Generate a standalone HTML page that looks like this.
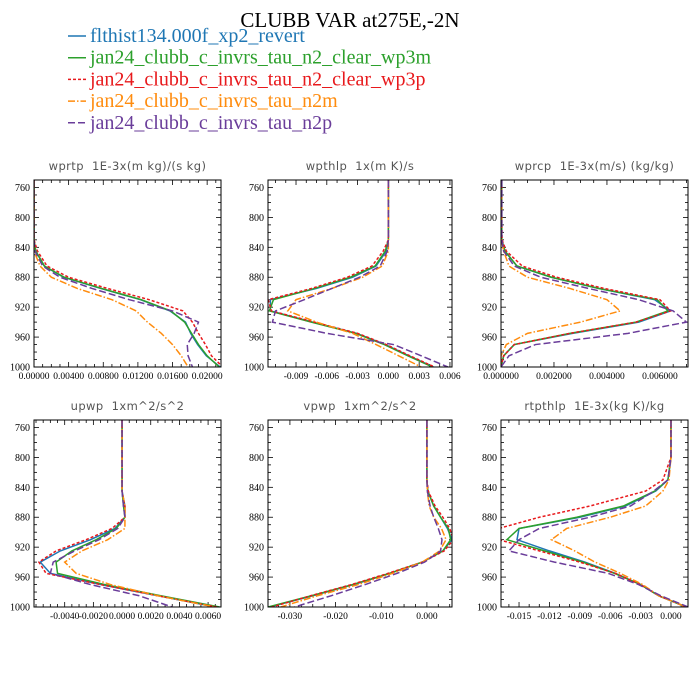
<!DOCTYPE html>
<html><head><meta charset="utf-8"><style>
html,body{margin:0;padding:0;background:#fff;}
svg{display:block;}
</style></head><body>
<svg id="chart" width="700" height="700" viewBox="0 0 700 700" xmlns="http://www.w3.org/2000/svg">
<text x="350" y="27" text-anchor="middle" font-family="Liberation Serif, serif" font-size="21">CLUBB VAR at275E,-2N</text>
<g id="legend"></g>
<g id="panels"></g>
</svg>
<script>
const levels = [750,800,830,845,865,880,895,910,925,940,955,970,985,1000];
const seriesNames = ["flthist134.000f_xp2_revert","jan24_clubb_c_invrs_tau_n2_clear_wp3m","jan24_clubb_c_invrs_tau_n2_clear_wp3p","jan24_clubb_c_invrs_tau_n2m","jan24_clubb_c_invrs_tau_n2p"];
const wprtpBlue   = [0,0,0,0.0002,0.0012,0.0034,0.0077,0.0123,0.0157,0.0175,0.0181,0.0189,0.0199,0.0215];
const wprtpGreen  = [0,0,0,0.0002,0.0012,0.0035,0.0078,0.0124,0.0158,0.0174,0.0182,0.0190,0.0200,0.0214];
const wprtpRed    = [0,0,0,0.0004,0.0015,0.0040,0.0085,0.0133,0.0172,0.0183,0.0190,0.0198,0.0205,0.0218];
const wprtpOrange = [0,0,0,0,0.0007,0.0020,0.0050,0.0090,0.0118,0.0131,0.0147,0.0160,0.0170,0.0178];
const wprtpPurple = [0,0,0,0.0001,0.0010,0.0030,0.0067,0.0110,0.0160,0.0190,0.0185,0.0177,0.0178,0.0183];
const wpthlpBlue   = [0,0,0,-0.0002,-0.0012,-0.0035,-0.0070,-0.0115,-0.0115,-0.0074,-0.0031,-0.0003,0.0020,0.0044];
const wpthlpGreen  = [0,0,0,-0.0003,-0.0013,-0.0037,-0.0072,-0.0112,-0.0116,-0.0075,-0.0032,-0.0004,0.0019,0.0043];
const wpthlpRed    = [0,0,0,-0.0005,-0.0016,-0.0040,-0.0075,-0.0117,-0.0114,-0.0072,-0.0030,-0.0002,0.0021,0.0045];
const wpthlpOrange = [0,0,0,0,-0.0006,-0.0025,-0.0055,-0.0090,-0.0098,-0.0070,-0.0035,-0.0012,0.0010,0.0032];
const wpthlpPurple = [0,0,0,-0.0001,-0.0008,-0.0028,-0.0055,-0.0082,-0.0110,-0.0113,-0.0060,0.0005,0.0032,0.0058];
const wprcpBlue   = [0.00003,0.00003,0.00003,0.00015,0.0006,0.0019,0.0037,0.0058,0.0064,0.0052,0.0027,0.0005,0.0001,0];
const wprcpGreen  = [0.00003,0.00003,0.00003,0.00015,0.0006,0.0019,0.0037,0.0059,0.0063,0.0051,0.0026,0.0005,0.0001,0];
const wprcpRed    = [0.00003,0.00003,0.00004,0.0002,0.0008,0.0021,0.0039,0.0060,0.0064,0.0051,0.0026,0.0005,0.0001,0];
const wprcpOrange = [0.00002,0.00002,0.00002,0.0001,0.0003,0.0010,0.0026,0.0040,0.0045,0.0030,0.0010,0.0002,0,0];
const wprcpPurple = [0.00003,0.00003,0.00003,0.0001,0.0005,0.0015,0.0033,0.0052,0.0065,0.0070,0.0048,0.0013,0.0003,0];
const upwpBlue   = [0,0,0,0,0.0002,0.0002,-0.0005,-0.0022,-0.0043,-0.0057,-0.0050,-0.0015,0.0025,0.0065];
const upwpGreen  = [0,0,0,0,0.0001,0.0002,-0.0004,-0.0018,-0.0035,-0.0046,-0.0045,-0.0012,0.0027,0.0068];
const upwpRed    = [0,0,0,0,0.0002,0.0002,-0.0007,-0.0025,-0.0046,-0.0058,-0.0053,-0.0015,0.0025,0.0066];
const upwpOrange = [0,0,0,0,0.0002,0.0002,0.0002,-0.0010,-0.0028,-0.0040,-0.0032,-0.0008,0.0025,0.0065];
const upwpPurple = [0,0,0,0,0.0001,0.0002,-0.0003,-0.0016,-0.0033,-0.0048,-0.0050,-0.0022,0.0012,0.0035];
const vpwpBlue   = [0,0,0,0.0002,0.0015,0.0030,0.0045,0.0055,0.0035,-0.0010,-0.0080,-0.0160,-0.0250,-0.0345];
const vpwpGreen  = [0,0,0,0.0002,0.0015,0.0030,0.0047,0.0052,0.0035,-0.0010,-0.0082,-0.0163,-0.0253,-0.0348];
const vpwpRed    = [0,0,0,0.0003,0.0018,0.0035,0.0050,0.0058,0.0038,-0.0010,-0.0085,-0.0165,-0.0255,-0.0340];
const vpwpOrange = [0,0,0,0.0001,0.0005,0.0015,0.0032,0.0042,0.0028,-0.0010,-0.0075,-0.0150,-0.0240,-0.0320];
const vpwpPurple = [0,0,0,0.0001,0.0007,0.0015,0.0025,0.0033,0.0030,-0.0005,-0.0065,-0.0135,-0.0210,-0.0290];
const rtpthlpBlue   = [0,0,-0.0003,-0.0015,-0.0045,-0.0090,-0.0150,-0.0152,-0.0120,-0.0085,-0.0055,-0.0030,-0.0012,0.0015];
const rtpthlpGreen  = [0,0,-0.0003,-0.0016,-0.0047,-0.0093,-0.0150,-0.0162,-0.0125,-0.0087,-0.0056,-0.0030,-0.0012,0.0015];
const rtpthlpRed    = [0,0,-0.0008,-0.0025,-0.0080,-0.0130,-0.0170,-0.0170,-0.0130,-0.0090,-0.0055,-0.0030,-0.0012,0.0015];
const rtpthlpOrange = [0,0,-0.0002,-0.0008,-0.0025,-0.0060,-0.0103,-0.0118,-0.0095,-0.0075,-0.0050,-0.0028,-0.0012,0.0015];
const rtpthlpPurple = [0,0,-0.0003,-0.0017,-0.0040,-0.0080,-0.0130,-0.0150,-0.0160,-0.0115,-0.0062,-0.0032,-0.0010,0.0017];
const yTickLabels = [760,800,840,880,920,960,1000];
const wprtpTicks = ["0.00000","0.00400","0.00800","0.01200","0.01600","0.02000"];
const wpthlpTicks = ["-0.009","-0.006","-0.003","0.000","0.003","0.006"];
const wprcpTicks = ["0.000000","0.002000","0.004000","0.006000"];
const upwpTicks = ["-0.0040","-0.0020","0.0000","0.0020","0.0040","0.0060"];
const vpwpTicks = ["-0.030","-0.020","-0.010","0.000"];
const rtpthlpTicks = ["-0.015","-0.012","-0.009","-0.006","-0.003","0.000"];

const colors = ["#1f77b4","#2ca02c","#e8191c","#ff8c0e","#6a3d9a"];
const dashes = ["", "", "3,2", "7,2,1.5,2", "7,3"];
const NS = "http://www.w3.org/2000/svg";
function mk(tag, attrs, parent){const e=document.createElementNS(NS,tag);for(const k in attrs)e.setAttribute(k,attrs[k]);parent.appendChild(e);return e;}

const lg = document.getElementById('legend');
seriesNames.forEach((n,i)=>{
  const y = 42 + i*21.7;
  const l = mk('line',{x1:68,x2:86,y1:y-6,y2:y-6,stroke:colors[i],'stroke-width':1.5,'stroke-dasharray':dashes[i]},lg);
  
  
  const t = mk('text',{x:90,y:y,'font-family':'Liberation Serif, serif','font-size':20,fill:colors[i]},lg);
  t.textContent = n;
  
  
});

const panels = [
  {name:'wprtp', title:'wprtp  1E-3x(m kg)/(s kg)', box:[34,180,221,367], xd:[0,0.0216], ticks:wprtpTicks, minor:0.001, series:[wprtpBlue,wprtpGreen,wprtpRed,wprtpOrange,wprtpPurple]},
  {name:'wpthlp', title:'wpthlp  1x(m K)/s', box:[268,180,452,367], xd:[-0.01173,0.0062], ticks:wpthlpTicks, minor:0.001, series:[wpthlpBlue,wpthlpGreen,wpthlpRed,wpthlpOrange,wpthlpPurple]},
  {name:'wprcp', title:'wprcp  1E-3x(m/s) (kg/kg)', box:[501,180,688,367], xd:[0,0.00706], ticks:wprcpTicks, minor:0.0005, series:[wprcpBlue,wprcpGreen,wprcpRed,wprcpOrange,wprcpPurple]},
  {name:'upwp', title:'upwp  1xm^2/s^2', box:[34,420,221,607], xd:[-0.00614,0.0069], ticks:upwpTicks, minor:0.0005, series:[upwpBlue,upwpGreen,upwpRed,upwpOrange,upwpPurple]},
  {name:'vpwp', title:'vpwp  1xm^2/s^2', box:[268,420,452,607], xd:[-0.0348,0.0055], ticks:vpwpTicks, minor:0.0025, series:[vpwpBlue,vpwpGreen,vpwpRed,vpwpOrange,vpwpPurple]},
  {name:'rtpthlp', title:'rtpthlp  1E-3x(kg K)/kg', box:[501,420,688,607], xd:[-0.01678,0.00168], ticks:rtpthlpTicks, minor:0.001, series:[rtpthlpBlue,rtpthlpGreen,rtpthlpRed,rtpthlpOrange,rtpthlpPurple]}
];
const root = document.getElementById('panels');
panels.forEach((p,pi)=>{
  const [x0,y0,x1,y1] = p.box;
  const g = mk('g',{},root);
  
  
  const X = v => x0 + (v - p.xd[0])/(p.xd[1]-p.xd[0])*(x1-x0);
  const Y = v => y0 + (v - 750)/(250)*(y1-y0);
  const cp = mk('clipPath',{id:'clip'+pi},g);
  mk('rect',{x:x0,y:y0,width:x1-x0,height:y1-y0},cp);
  const t = mk('text',{x:(x0+x1)/2,y:y0-10,'text-anchor':'middle','font-family':'DejaVu Sans, sans-serif','font-size':11.5,fill:'#555','letter-spacing':'0.4'},g);
  t.textContent = p.title.replace('  ','\u00a0\u00a0');
  
  
  for(let v=760; v<=1000; v+=10){
    const major = (v-760)%40===0;
    const len = major?5:3;
    mk('line',{x1:x0,x2:x0+len,y1:Y(v),y2:Y(v),stroke:'#000','stroke-width':0.8},g);
    mk('line',{x1:x1,x2:x1-len,y1:Y(v),y2:Y(v),stroke:'#000','stroke-width':0.8},g);
  }
  yTickLabels.forEach(v=>{
    const tl = mk('text',{x:x0-4,y:Y(v)+3.5,'text-anchor':'end','font-family':'Liberation Serif, serif','font-size':10},g);
    tl.textContent = v;
    
    
  });
  const vals = p.ticks.map(Number);
  for(let v=Math.ceil(p.xd[0]/p.minor)*p.minor; v<=p.xd[1]+1e-12; v+=p.minor){
    const isMajor = vals.some(m=>Math.abs(m-v)<p.minor*0.1);
    const len = isMajor?5:3;
    mk('line',{x1:X(v),x2:X(v),y1:y1,y2:y1-len,stroke:'#000','stroke-width':0.8},g);
    mk('line',{x1:X(v),x2:X(v),y1:y0,y2:y0+len,stroke:'#000','stroke-width':0.8},g);
  }
  p.ticks.forEach(s=>{
    const tl = mk('text',{x:X(Number(s)),y:y1+12,'text-anchor':'middle','font-family':'Liberation Serif, serif','font-size':9.5},g);
    tl.textContent = s;
    
    
  });
  const sg = mk('g',{'clip-path':'url(#clip'+pi+')'},g);
  p.series.forEach((arr,si)=>{
    const d = arr.map((v,k)=>(k?'L':'M')+X(v).toFixed(2)+','+Y(levels[k]).toFixed(2)).join(' ');
    const path = mk('path',{d:d,fill:'none',stroke:colors[si],'stroke-width':1.5,'stroke-dasharray':dashes[si]},sg);
    
    
  });
  const fr = mk('rect',{x:x0,y:y0,width:x1-x0,height:y1-y0,fill:'none',stroke:'#000','stroke-width':1},g);
  
  
});
</script>
</body></html>
